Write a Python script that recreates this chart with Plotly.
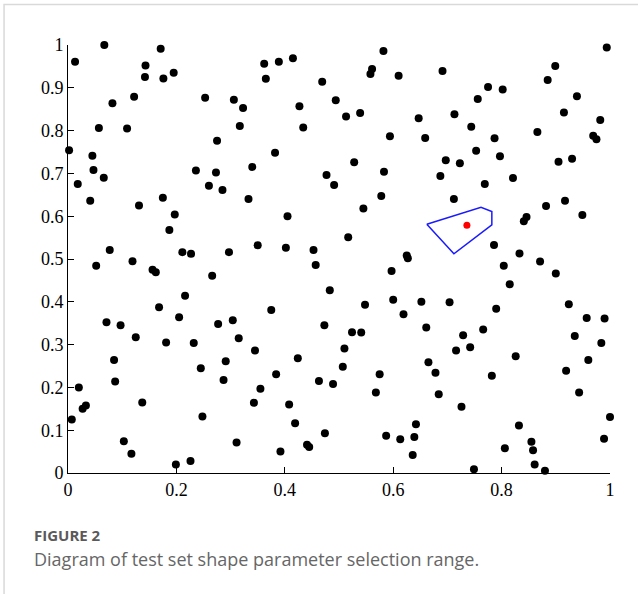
import plotly.graph_objects as go

pts_x = [0.067,0.013,0.171,0.143,0.142,0.176,0.195,0.082,0.122,0.057,0.109,0.002,0.045,0.047,0.066,0.018,0.253,0.306,0.323,0.317,0.275,0.236,0.273,0.260,
         0.362,0.389,0.415,0.365,0.469,0.582,0.561,0.558,0.610,0.427,0.494,0.513,0.539,0.647,0.434,0.594,0.659,0.382,0.340,0.528,0.583,0.477,0.491,
         0.994,0.691,0.899,0.885,0.775,0.802,0.756,0.939,0.713,0.915,0.982,0.744,0.787,0.866,0.969,0.975,0.753,0.797,0.697,0.723,0.905,0.930,0.687,0.821,0.769,
         0.041,0.131,0.175,0.197,0.187,0.285,0.077,0.052,0.119,0.211,0.227,0.297,0.156,0.162,0.266,0.216,0.168,0.205,0.071,0.097,0.277,0.304,
         0.333,0.578,0.545,0.405,0.517,0.350,0.402,0.453,0.457,0.625,0.627,0.597,0.483,0.375,0.548,0.600,0.652,0.619,0.473,0.524,0.541,0.661,
         0.712,0.882,0.917,0.949,0.846,0.841,0.786,0.833,0.804,0.871,0.900,0.815,0.704,0.790,0.924,0.957,0.990,0.766,
         0.125,0.181,0.232,0.315,0.085,0.291,0.245,0.087,0.287,0.020,0.027,0.033,0.137,0.007,0.248,0.103,0.117,0.311,0.199,0.226,
         0.345,0.424,0.510,0.507,0.665,0.384,0.463,0.489,0.575,0.568,0.355,0.343,0.408,0.419,0.474,0.441,0.445,0.392,0.587,0.613,0.639,0.642,0.636,
         0.729,0.935,0.984,0.716,0.742,0.678,0.826,0.960,0.782,0.919,0.684,0.943,0.726,0.832,1.000,0.989,0.806,0.855,0.858,0.861,0.749,0.880]
pts_y = [1.000,0.961,0.991,0.952,0.925,0.922,0.935,0.864,0.879,0.806,0.805,0.754,0.741,0.708,0.690,0.675,0.877,0.872,0.853,0.811,0.776,0.707,0.702,0.671,
         0.956,0.961,0.969,0.921,0.914,0.986,0.944,0.932,0.928,0.857,0.871,0.833,0.841,0.829,0.807,0.787,0.783,0.748,0.715,0.726,0.704,0.696,0.673,
         0.994,0.939,0.951,0.918,0.902,0.896,0.874,0.880,0.838,0.842,0.825,0.809,0.782,0.797,0.788,0.780,0.753,0.740,0.731,0.724,0.727,0.734,0.694,0.689,0.675,
         0.636,0.625,0.643,0.604,0.568,0.661,0.521,0.484,0.495,0.516,0.512,0.516,0.475,0.469,0.461,0.414,0.387,0.364,0.352,0.345,0.348,0.357,
         0.640,0.647,0.618,0.600,0.551,0.532,0.526,0.521,0.486,0.508,0.502,0.472,0.427,0.381,0.393,0.405,0.400,0.371,0.345,0.329,0.328,0.340,
         0.640,0.624,0.636,0.603,0.598,0.588,0.533,0.513,0.484,0.494,0.466,0.441,0.399,0.384,0.394,0.362,0.361,0.335,
         0.317,0.305,0.304,0.315,0.264,0.261,0.245,0.214,0.217,0.200,0.150,0.158,0.165,0.125,0.132,0.074,0.045,0.071,0.020,0.028,
         0.286,0.268,0.291,0.248,0.259,0.231,0.215,0.208,0.231,0.188,0.197,0.164,0.160,0.116,0.093,0.066,0.061,0.050,0.087,0.079,0.084,0.114,0.042,
         0.322,0.320,0.304,0.286,0.294,0.234,0.273,0.264,0.227,0.239,0.184,0.188,0.155,0.111,0.131,0.080,0.058,0.073,0.053,0.020,0.009,0.005]

range_x = [0.662, 0.762, 0.782, 0.782, 0.712, 0.662]
range_y = [0.581, 0.621, 0.611, 0.580, 0.512, 0.581]

test_x = [0.736]
test_y = [0.579]

tick_vals = [0, 0.2, 0.4, 0.6, 0.8, 1]
tick_text = ["0", "0.2", "0.4", "0.6", "0.8", "1"]
ytick_vals = [0, 0.1, 0.2, 0.3, 0.4, 0.5, 0.6, 0.7, 0.8, 0.9, 1]
ytick_text = ["0", "0.1", "0.2", "0.3", "0.4", "0.5", "0.6", "0.7", "0.8", "0.9", "1"]

fig = go.Figure()
fig.add_trace(go.Scatter(x=pts_x, y=pts_y, mode="markers",
                         marker=dict(color="black", size=8), cliponaxis=False,
                         showlegend=False, hoverinfo="skip"))
fig.add_trace(go.Scatter(x=range_x, y=range_y, mode="lines",
                         line=dict(color="#1a1aff", width=1.5), cliponaxis=False,
                         showlegend=False, hoverinfo="skip"))
fig.add_trace(go.Scatter(x=test_x, y=test_y, mode="markers",
                         marker=dict(color="#ff0000", size=7), cliponaxis=False,
                         showlegend=False, hoverinfo="skip"))

axis_font = dict(family="Liberation Serif, Times New Roman, serif", size=18, color="black")
fig.update_xaxes(range=[0, 1], tickvals=tick_vals, ticktext=tick_text,
                 showgrid=False, zeroline=False, showline=True, linecolor="black",
                 linewidth=1, ticks="inside", ticklen=6, tickcolor="black",
                 tickfont=axis_font)
fig.update_yaxes(range=[0, 1], tickvals=ytick_vals, ticktext=ytick_text,
                 showgrid=False, zeroline=False, showline=True, linecolor="black",
                 linewidth=1, ticks="inside", ticklen=6, tickcolor="black",
                 tickfont=axis_font)

fig.add_shape(type="rect", xref="paper", yref="paper",
              x0=-0.118, x1=1.2, y0=-0.4, y1=1.0946,
              line=dict(color="#d9d9d9", width=1.5), layer="below")

fig.add_annotation(text="<b>FIGURE 2</b>", xref="paper", yref="paper",
                   x=-0.0664, y=-0.145, xanchor="left", yanchor="middle",
                   showarrow=False,
                   font=dict(family="Open Sans, Noto Sans, sans-serif", size=15, color="#5a5a5a"))
fig.add_annotation(text="Diagram of test set shape parameter selection range.",
                   xref="paper", yref="paper",
                   x=-0.0664, y=-0.201, xanchor="left", yanchor="middle",
                   showarrow=False,
                   font=dict(family="Open Sans, Noto Sans, sans-serif", size=18, color="#666666"))

fig.update_layout(width=638, height=594, plot_bgcolor="white", paper_bgcolor="white",
                  margin=dict(l=68, r=28, t=45, b=121))

fig.write_html("out.html")
